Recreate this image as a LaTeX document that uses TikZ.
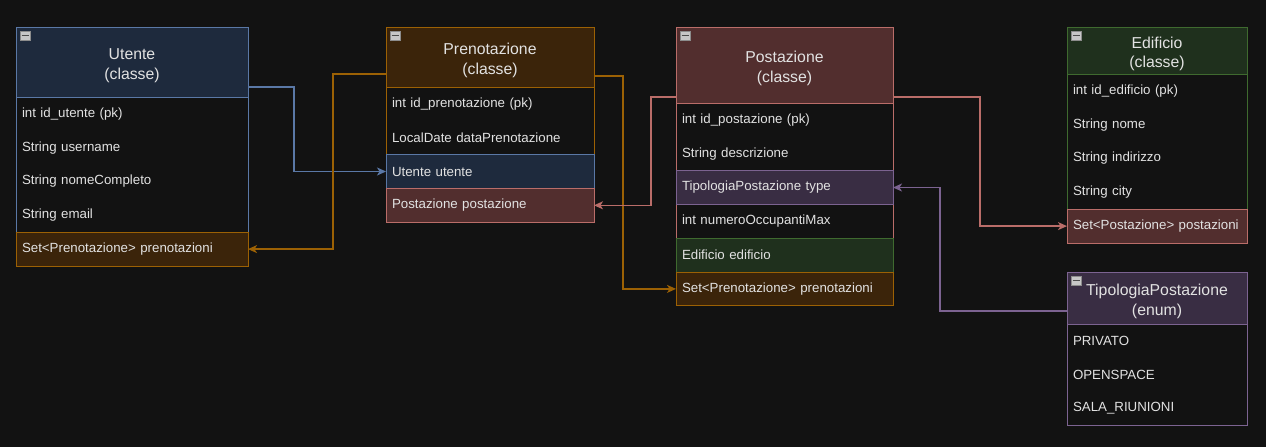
\documentclass[tikz,border=0pt]{standalone}
\usepackage{fontspec}
\setmainfont{Liberation Sans}
\usepackage{tikz}
\usetikzlibrary{positioning, backgrounds}
\usetikzlibrary{arrows.meta}
\tikzset{>={Stealth[length=9pt,width=8pt,inset=2.5pt]}}

\definecolor{bgcol}{HTML}{121212}
\definecolor{txtcol}{HTML}{E2E2E2}
\definecolor{blueline}{HTML}{5A78A6}
\definecolor{bluefill}{HTML}{1E2A3D}
\definecolor{orgline}{HTML}{9C6104}
\definecolor{orgfill}{HTML}{3B240A}
\definecolor{redline}{HTML}{BA6D69}
\definecolor{redfill}{HTML}{522E2E}
\definecolor{purpline}{HTML}{7C6391}
\definecolor{purpfill}{HTML}{392D43}
\definecolor{grnline}{HTML}{3F6A2F}
\definecolor{grnfill}{HTML}{1F301D}

% strut that pushes the header title a little down
\newcommand{\hdrgap}{\rule{0pt}{18pt}}
% little collapse icon in the top left corner of a header
\newcommand{\collapsebox}[1]{%
  \filldraw[fill=black!22, draw=black!45, line width=0.6pt] ([shift={(4pt,-4pt)}]#1.north west) rectangle ++(10pt,-9pt);
  \draw[black!70, line width=1.5pt] ([shift={(5.5pt,-8.5pt)}]#1.north west) -- ++(7pt,0pt);
}

\begin{document}
\begin{tikzpicture}[x=1pt, y=-1pt, header/.style={rectangle, draw=#1line, fill=#1fill, line width=1pt, text=txtcol, font=\fontsize{15.8}{19.5}\selectfont, align=center, inner sep=0pt, outer sep=0pt, anchor=north west}, row/.style={rectangle, text=txtcol, font=\fontsize{13.3}{15}\selectfont, text width=#1, align=left, inner xsep=6pt, inner ysep=0pt, outer sep=0pt, minimum height=33.8pt}, colrow/.style={draw=#1line, fill=#1fill, line width=1pt}, link/.style={->, draw=#1line, line width=1.3pt}]

    %Utente
    \node[header=blue, minimum width=232pt, minimum height=70pt](utente) at (16,27){\hdrgap Utente\\(classe)};
    \node[row=220pt](ut_id)[below=0pt of utente]{int id\_utente (pk)};
    \node[row=220pt](ut_user)[below=0pt of ut_id]{String username};
    \node[row=220pt](ut_nome)[below=0pt of ut_user]{String nomeCompleto};
    \node[row=220pt](ut_email)[below=0pt of ut_nome]{String email};
    \node[row=220pt, colrow=org](ut_pren)[below=0pt of ut_email]{Set<Prenotazione> prenotazioni};

    %Prenotazione
    \node[header=org, minimum width=208pt, minimum height=60pt](prenotazione) at (386,27){\hdrgap Prenotazione\\(classe)};
    \node[row=196pt](pr_id)[below=0pt of prenotazione]{int id\_prenotazione (pk)};
    \node[row=196pt](pr_data)[below=0pt of pr_id]{LocalDate dataPrenotazione};
    \node[row=196pt, colrow=blue](pr_utente)[below=0pt of pr_data]{Utente utente};
    \node[row=196pt, colrow=red](pr_post)[below=0pt of pr_utente]{Postazione postazione};

    %Postazione
    \node[header=red, minimum width=217pt, minimum height=76pt](postazione) at (676,27){\hdrgap Postazione\\(classe)};
    \node[row=205pt](po_id)[below=0pt of postazione]{int id\_postazione (pk)};
    \node[row=205pt](po_descr)[below=0pt of po_id]{String descrizione};
    \node[row=205pt, colrow=purp](po_type)[below=0pt of po_descr]{TipologiaPostazione type};
    \node[row=205pt](po_max)[below=0pt of po_type]{int numeroOccupantiMax};
    \node[row=205pt, colrow=grn](po_edif)[below=0pt of po_max]{Edificio edificio};
    \node[row=205pt, colrow=org](po_pren)[below=0pt of po_edif]{Set<Prenotazione> prenotazioni};

    %Edificio
    \node[header=grn, minimum width=180pt, minimum height=47pt](edificio) at (1067,27){\hdrgap Edificio\\(classe)};
    \node[row=168pt](ed_id)[below=0pt of edificio]{int id\_edificio (pk)};
    \node[row=168pt](ed_nome)[below=0pt of ed_id]{String nome};
    \node[row=168pt](ed_indir)[below=0pt of ed_nome]{String indirizzo};
    \node[row=168pt](ed_city)[below=0pt of ed_indir]{String city};
    \node[row=168pt, colrow=red](ed_post)[below=0pt of ed_city]{Set<Postazione> postazioni};

    %TipologiaPostazione
    \node[header=purp, minimum width=180pt, minimum height=52pt](tipologia) at (1067,272){\hdrgap TipologiaPostazione\\(enum)};
    \node[row=168pt](ti_priv)[below=0pt of tipologia]{PRIVATO};
    \node[row=168pt](ti_open)[below=0pt of ti_priv]{OPENSPACE};
    \node[row=168pt](ti_sala)[below=0pt of ti_open]{SALA\_RIUNIONI};

    %Icons
    \collapsebox{utente}
    \collapsebox{prenotazione}
    \collapsebox{postazione}
    \collapsebox{edificio}
    \collapsebox{tipologia}

    %Lines
    \draw[link=blue] ([yshift=10pt]utente.south east) -- ++(46,0) |- (pr_utente.west);
    \draw[link=org] ([yshift=13pt]prenotazione.south west) -- ++(-53,0) |- (ut_pren.east);
    \draw[link=org] ([yshift=11pt]prenotazione.south east) -- ++(29,0) |- (po_pren.west);
    \draw[link=red] ([yshift=6pt]postazione.south west) -- ++(-25,0) |- (pr_post.east);
    \draw[link=red] ([yshift=6pt]postazione.south east) -- ++(87,0) |- (ed_post.west);
    \draw[link=purp] ([yshift=13pt]tipologia.south west) -- ++(-127,0) |- (po_type.east);

    %Outlines
    \begin{scope}[on background layer]
    \fill[bgcol] (0,0) rectangle (1266,447);
    \draw[blueline, line width=1pt] (utente.north west) rectangle (ut_pren.south east);
    \draw[orgline, line width=1pt] (prenotazione.north west) rectangle (pr_post.south east);
    \draw[redline, line width=1pt] (postazione.north west) rectangle (po_pren.south east);
    \draw[grnline, line width=1pt] (edificio.north west) rectangle (ed_post.south east);
    \draw[purpline, line width=1pt] (tipologia.north west) rectangle (ti_sala.south east);
    \end{scope}

\end{tikzpicture}
\end{document}
